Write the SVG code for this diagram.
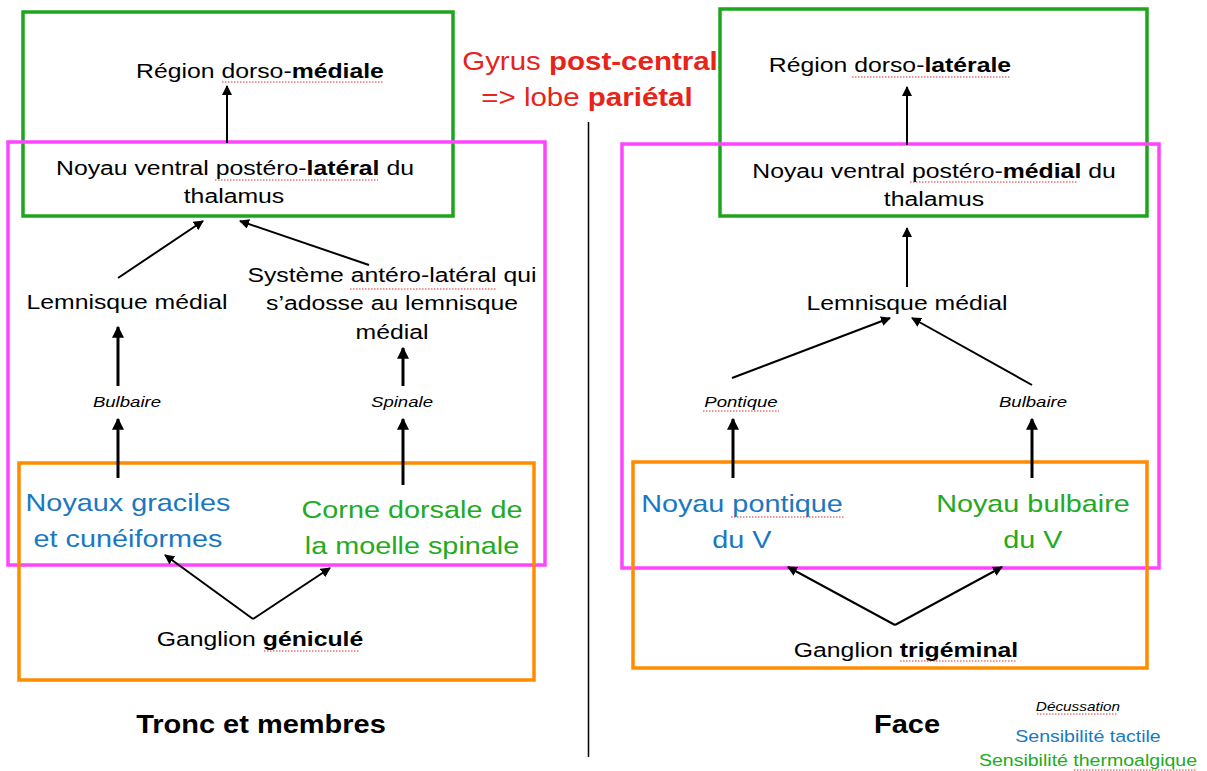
<svg xmlns="http://www.w3.org/2000/svg" width="1207" height="771" viewBox="0 0 1207 771">
<defs>
<marker id="ah" viewBox="0 0 10 10" refX="9" refY="5" markerWidth="5" markerHeight="5" markerUnits="strokeWidth" orient="auto">
<path d="M0,0 L10,5 L0,10 z" fill="#000"/>
</marker>
<marker id="ah3" viewBox="0 0 10 10" refX="9" refY="5" markerWidth="4" markerHeight="4" markerUnits="strokeWidth" orient="auto">
<path d="M0,0 L10,5 L0,10 z" fill="#000"/>
</marker>
<style>
text{font-family:"Liberation Sans",Arial,sans-serif;text-anchor:middle;transform-box:fill-box;transform-origin:center;transform:scaleX(1.18);}
.t{font-size:21px;fill:#000;}
.i{font-size:15px;font-style:italic;fill:#000;transform:scaleX(1.24);}
.b{font-weight:bold;}
.blue{font-size:24px;fill:#1a78c2;transform:scaleX(1.2);}
.green{font-size:24px;fill:#22aa22;transform:scaleX(1.2);}
.red{font-size:25px;fill:#e8231a;}
.title{font-size:25px;font-weight:bold;fill:#000;transform:scaleX(1.16);}
.gbox{fill:none;stroke:#1ea51e;stroke-width:3.5;}
.pbox{fill:none;stroke:#ff44ff;stroke-width:3.5;}
.obox{fill:none;stroke:#ff8c00;stroke-width:3.5;}
.a{stroke:#000;stroke-width:2;fill:none;marker-end:url(#ah);}
.a3{stroke:#000;stroke-width:3;fill:none;marker-end:url(#ah3);}
.sp{stroke:#e03030;stroke-width:1.2;stroke-dasharray:1.5 1.5;fill:none;}
</style>
</defs>
<rect width="1207" height="771" fill="#fff"/>

<g id="boxes">
<rect class="gbox" x="23" y="12" width="430" height="204"/>
<rect class="pbox" x="8" y="142" width="537" height="423"/>
<rect class="obox" x="19" y="463" width="515" height="217"/>
<rect class="gbox" x="720" y="9" width="427" height="207"/>
<rect class="pbox" x="622" y="144" width="537" height="424"/>
<rect class="obox" x="633" y="462" width="514" height="206"/>
</g>

<line x1="588.5" y1="122" x2="588.5" y2="757" stroke="#000" stroke-width="1.5"/>

<g id="connectors">
<line class="a" x1="227" y1="143" x2="227" y2="86"/>
<line class="a" x1="118" y1="278" x2="203" y2="221"/>
<line class="a" x1="369" y1="265" x2="240" y2="221"/>
<line class="a3" x1="118" y1="386" x2="118" y2="327"/>
<line class="a3" x1="118" y1="478" x2="118" y2="419"/>
<line class="a3" x1="403" y1="386" x2="403" y2="348"/>
<line class="a3" x1="403" y1="485" x2="403" y2="419"/>
<line class="a" x1="253" y1="619" x2="165" y2="555"/>
<line class="a" x1="253" y1="619" x2="330" y2="568"/>

<line class="a" x1="907" y1="145" x2="907" y2="87"/>
<line class="a" x1="907" y1="287" x2="907" y2="228"/>
<line class="a" x1="732" y1="378" x2="890" y2="318"/>
<line class="a" x1="1032" y1="385" x2="912" y2="318"/>
<line class="a3" x1="733" y1="478" x2="733" y2="419"/>
<line class="a3" x1="1032" y1="478" x2="1032" y2="419"/>
<line class="a" x1="895" y1="625" x2="788" y2="567"/>
<line class="a" x1="895" y1="625" x2="1002" y2="567"/>
</g>

<g id="gyrus">
<text class="red" x="590" y="70">Gyrus <tspan class="b">post-central</tspan></text>
<text class="red" x="587" y="106">=&gt; lobe <tspan class="b">pariétal</tspan></text>
</g>

<g id="region-dm"><text class="t" x="260" y="78">Région dorso-<tspan class="b">médiale</tspan></text></g>
<g id="vpl"><text class="t" x="235" y="175">Noyau ventral postéro-<tspan class="b">latéral</tspan> du</text>
<text class="t" x="234" y="203">thalamus</text></g>
<g id="lemn-l"><text class="t" x="127" y="309">Lemnisque médial</text></g>
<g id="sal"><text class="t" x="392" y="282">Système antéro-latéral qui</text>
<text class="t" x="392" y="310">s’adosse au lemnisque</text>
<text class="t" x="392" y="339">médial</text></g>
<g id="bulbaire-l"><text class="i" x="127" y="407">Bulbaire</text></g>
<g id="spinale"><text class="i" x="402" y="407">Spinale</text></g>
<g id="noyaux-gc"><text class="blue" x="128" y="511">Noyaux graciles</text>
<text class="blue" x="128" y="547">et cunéiformes</text></g>
<g id="corne"><text class="green" x="412" y="518">Corne dorsale de</text>
<text class="green" x="412" y="554">la moelle spinale</text></g>
<g id="ganglion-g"><text class="t" x="260" y="646">Ganglion <tspan class="b">géniculé</tspan></text></g>
<g id="tronc"><text class="title" x="261" y="733">Tronc et membres</text></g>

<g id="region-dl"><text class="t" x="890" y="72">Région dorso-<tspan class="b">latérale</tspan></text></g>
<g id="vpm"><text class="t" x="934" y="178">Noyau ventral postéro-<tspan class="b">médial</tspan> du</text>
<text class="t" x="934" y="206">thalamus</text></g>
<g id="lemn-r"><text class="t" x="907" y="310">Lemnisque médial</text></g>
<g id="pontique"><text class="i" x="741" y="407">Pontique</text></g>
<g id="bulbaire-r"><text class="i" x="1033" y="407">Bulbaire</text></g>
<g id="noyau-pont"><text class="blue" x="742" y="512">Noyau pontique</text>
<text class="blue" x="742" y="548">du V</text></g>
<g id="noyau-bulb"><text class="green" x="1033" y="512">Noyau bulbaire</text>
<text class="green" x="1033" y="548">du V</text></g>
<g id="ganglion-t"><text class="t" x="906" y="657">Ganglion <tspan class="b">trigéminal</tspan></text></g>
<g id="face"><text class="title" x="907" y="733">Face</text></g>

<g id="legend">
<text x="1078" y="711" style="font-size:13px;font-style:italic;fill:#000">Décussation</text>
<text x="1088" y="742" style="font-size:17px;fill:#1a78c2;transform:scaleX(1.15)">Sensibilité tactile</text>
<text x="1088" y="766" style="font-size:17px;fill:#22aa22;transform:scaleX(1.15)">Sensibilité thermoalgique</text>
</g>

<g id="spellcheck">
<line class="sp" x1="222" y1="82" x2="384" y2="82"/>
<line class="sp" x1="215" y1="180" x2="378" y2="180"/>
<line class="sp" x1="350" y1="289" x2="497" y2="289"/>
<line class="sp" x1="264" y1="651" x2="360" y2="651"/>
<line class="sp" x1="852" y1="77" x2="1010" y2="77"/>
<line class="sp" x1="910" y1="182" x2="1078" y2="182"/>
<line class="sp" x1="703" y1="411" x2="779" y2="411"/>
<line class="sp" x1="731" y1="517" x2="845" y2="517"/>
<line class="sp" x1="900" y1="661" x2="1016" y2="661"/>
<line class="sp" x1="1037" y1="714" x2="1118" y2="714"/>
<line class="sp" x1="1074" y1="770" x2="1197" y2="770"/>
</g>
</svg>
